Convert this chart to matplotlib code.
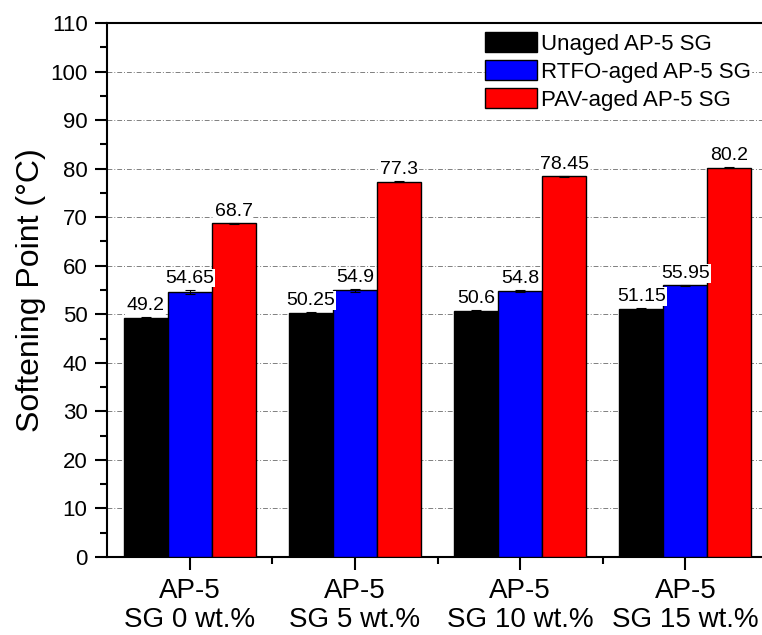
import numpy as np
import matplotlib
matplotlib.use("Agg")
import matplotlib.pyplot as plt
from matplotlib.ticker import MultipleLocator, FixedLocator

plt.rcParams['font.family'] = ['Liberation Sans', 'DejaVu Sans']

# data
groups = ["AP-5\nSG 0 wt.%", "AP-5\nSG 5 wt.%", "AP-5\nSG 10 wt.%", "AP-5\nSG 15 wt.%"]
series = ["Unaged AP-5 SG", "RTFO-aged AP-5 SG", "PAV-aged AP-5 SG"]
unaged = [49.2, 50.25, 50.6, 51.15]
rtfo = [54.65, 54.9, 54.8, 55.95]
pav = [68.7, 77.3, 78.45, 80.2]
unaged_err = [0.2, 0.2, 0.2, 0.15]
rtfo_err = [0.45, 0.25, 0.2, 0.15]
pav_err = [0.1, 0.15, 0.1, 0.1]
labels_txt = [["49.2", "50.25", "50.6", "51.15"],
              ["54.65", "54.9", "54.8", "55.95"],
              ["68.7", "77.3", "78.45", "80.2"]]

colors = ["#000000", "#0000ff", "#ff0000"]

fig = plt.figure(figsize=(7.62, 6.35), dpi=100)
ax = fig.add_axes([107 / 762, 1 - 557 / 635, 661 / 762, 534 / 635])

x = np.arange(1, len(groups) + 1)
w = 0.266
vals = [unaged, rtfo, pav]
errs = [unaged_err, rtfo_err, pav_err]

for i, (v, e, c, name) in enumerate(zip(vals, errs, colors, series)):
    xs = x + (i - 1) * w
    ax.bar(xs, v, width=w, color=c, edgecolor='black', linewidth=1.0,
           label=name, zorder=3)
    ax.errorbar(xs, v, yerr=e, fmt='none', ecolor='black', elinewidth=0.8,
                capsize=3.5, capthick=0.8, zorder=4)
    for xi, vi, ei, t in zip(xs, v, e, labels_txt[i]):
        ax.text(xi, vi + ei + 0.6, t, ha='center', va='bottom', fontsize=14,
                zorder=5, bbox=dict(facecolor='white', edgecolor='none', pad=0.5))

ax.set_xlim(0.5, 4.5)
ax.set_ylim(0, 110)
ax.set_xticks(x)
ax.set_xticklabels(groups, fontsize=20, linespacing=1.15)
ax.xaxis.set_minor_locator(FixedLocator([1.5, 2.5, 3.5]))
ax.yaxis.set_major_locator(MultipleLocator(10))
ax.yaxis.set_minor_locator(MultipleLocator(5))
ax.tick_params(axis='y', which='major', direction='out', length=9, width=1.5,
               labelsize=16, pad=5)
ax.tick_params(axis='y', which='minor', direction='out', length=5, width=1.5)
ax.tick_params(axis='x', which='major', direction='out', length=9, width=1.5,
               pad=6)
ax.tick_params(axis='x', which='minor', direction='out', length=5, width=1.5)

for s in ax.spines.values():
    s.set_linewidth(1.5)

ax.yaxis.grid(True, color='gray', linestyle=(0, (5, 2, 1, 2)), linewidth=0.7,
              zorder=0)
ax.set_axisbelow(True)

ax.set_ylabel("Softening Point (\u00b0C)", fontsize=23, labelpad=3)

leg = ax.legend(loc='upper left', bbox_to_anchor=(0.572, 0.983), fontsize=16,
                handlelength=2.35, handleheight=1.0, labelspacing=0.25,
                handletextpad=0.15, borderpad=0.0, borderaxespad=0.0,
                frameon=True, fancybox=False, framealpha=1)
leg.get_frame().set_edgecolor('white')
leg.set_zorder(6)

fig.savefig("out.png", dpi=100)
